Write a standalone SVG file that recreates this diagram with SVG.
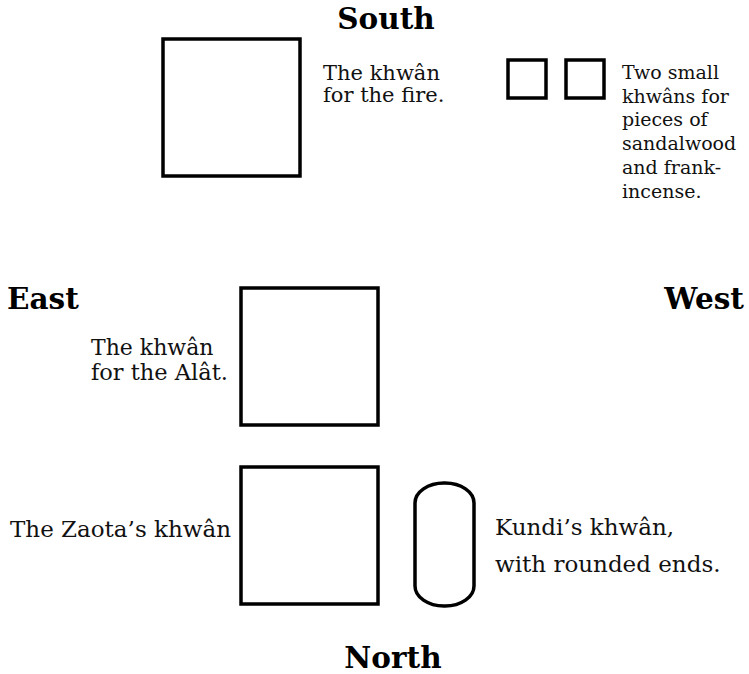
<svg xmlns="http://www.w3.org/2000/svg" width="749" height="674" viewBox="0 0 749 674">
<style>
.box{fill:#fff;stroke:#000;stroke-width:3.5}
.t{font-family:"DejaVu Serif","Liberation Serif",serif;font-size:20px;fill:#111}
.b{font-family:"DejaVu Serif","Liberation Serif",serif;font-size:29.5px;font-weight:bold;fill:#000}
</style>
<rect width="749" height="674" fill="#fff"/>
<g id="labels">
<text class="b" x="386" y="29" text-anchor="middle">South</text>
<text class="b" x="7" y="309">East</text>
<text class="b" x="744" y="309" text-anchor="end">West</text>
<text class="b" x="393" y="668" text-anchor="middle">North</text>
</g>
<g id="fire-khwan">
<rect class="box" x="163" y="39" width="137" height="137"/>
<text class="t" x="323" y="80" style="font-size:21px">The khwân</text>
<text class="t" x="323" y="102" style="font-size:21px">for the fire.</text>
</g>
<g id="small-khwans">
<rect class="box" x="508" y="60" width="38" height="38"/>
<rect class="box" x="566" y="60" width="38" height="38"/>
<text class="t" x="622" y="79" style="font-size:19px">Two small</text>
<text class="t" x="622" y="103" style="font-size:19px">khwâns for</text>
<text class="t" x="622" y="126" style="font-size:19px">pieces of</text>
<text class="t" x="622" y="150" style="font-size:19px">sandalwood</text>
<text class="t" x="622" y="174" style="font-size:19px">and frank-</text>
<text class="t" x="622" y="198" style="font-size:19px">incense.</text>
</g>
<g id="alat-khwan">
<rect class="box" x="241" y="288" width="137" height="137"/>
<text class="t" x="91" y="355" style="font-size:22px">The khwân</text>
<text class="t" x="91" y="380" style="font-size:22.5px">for the Alât.</text>
</g>
<g id="zaota-khwan">
<rect class="box" x="241" y="467" width="137" height="137"/>
<text class="t" x="10" y="537" style="font-size:23px">The Zaota’s khwân</text>
</g>
<g id="kundi-khwan">
<rect class="box" x="415" y="483" width="59" height="123" rx="29" ry="20"/>
<text class="t" x="495" y="535" style="font-size:23px">Kundi’s khwân,</text>
<text class="t" x="495" y="572" style="font-size:23px">with rounded ends.</text>
</g>
<g id="connectors"></g>
</svg>
